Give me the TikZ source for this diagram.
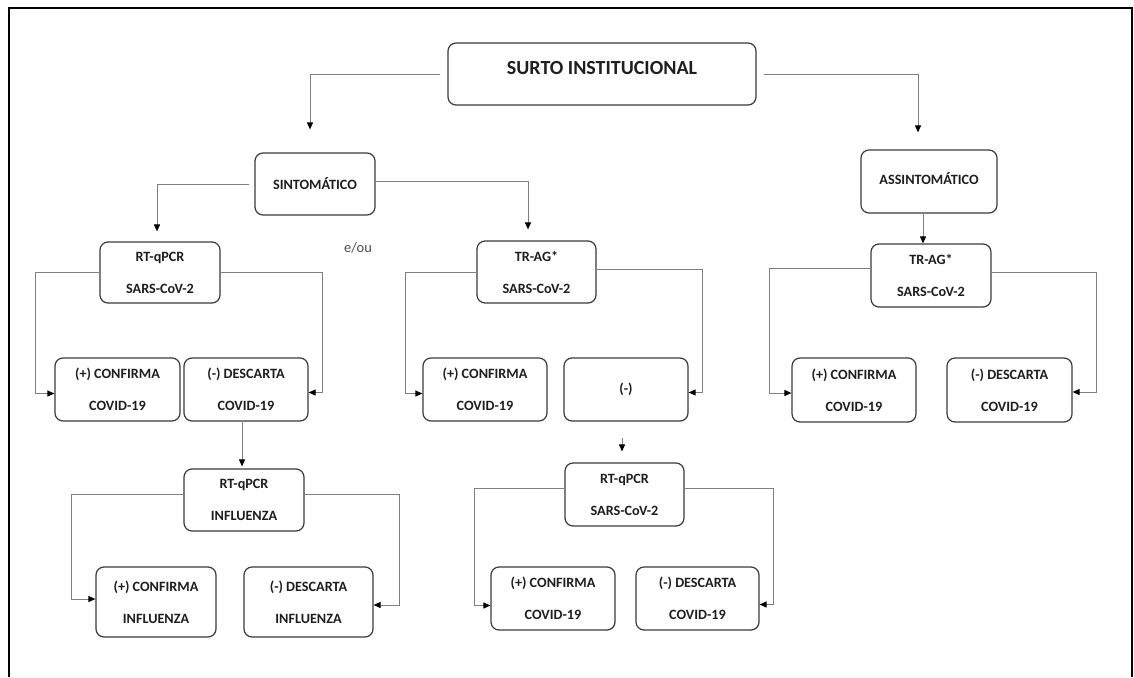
\documentclass[tikz,border=0pt]{standalone}
\usepackage{fontspec}
\setmainfont{Carlito}
\usetikzlibrary{arrows.meta,calc}
\definecolor{boxc}{HTML}{3A3A3A}
\definecolor{linec}{HTML}{808080}
\definecolor{txt}{HTML}{1E1E1E}
\tikzset{
  box/.style={draw=boxc, line width=1.2pt, rounded corners=8pt, fill=white, inner sep=0pt,
    align=center, text=txt, font=\bfseries\fontsize{14.2}{32}\selectfont},
  conn/.style={draw=linec, line width=1pt, -{Triangle[length=7pt,width=6pt,color=black]}},
}
\begin{document}
\begin{tikzpicture}[x=1pt,y=-1pt]
\useasboundingbox (0,0) rectangle (1134,677);
\draw[line width=1.8pt,black] (9,677) -- (9,8) -- (1132,8) -- (1132,677);

% nodes
\node[box, minimum width=308pt, minimum height=62pt, text depth=12pt, font=\bfseries\fontsize{20}{24}\selectfont] (surto) at (602,74) {SURTO INSTITUCIONAL};
\node[box, minimum width=120pt, minimum height=62pt] (sint) at (315,184) {SINTOMÁTICO};
\node[box, minimum width=136pt, minimum height=63pt, text depth=6pt] (assint) at (929,181.5) {ASSINTOMÁTICO};

\node[box, minimum width=120pt, minimum height=61pt] (rt1) at (160,272.5) {RT-qPCR\\SARS-CoV-2};
\node[box, minimum width=125pt, minimum height=63pt] (conf1) at (117.5,389.5) {(+) CONFIRMA\\COVID-19};
\node[box, minimum width=124pt, minimum height=63pt] (desc1) at (246,389.5) {(-) DESCARTA\\COVID-19};
\node[box, minimum width=120pt, minimum height=62pt] (rtinf) at (244,500) {RT-qPCR\\INFLUENZA};
\node[box, minimum width=120pt, minimum height=70pt] (confinf) at (156,602) {(+) CONFIRMA\\INFLUENZA};
\node[box, minimum width=129pt, minimum height=70pt] (descinf) at (308.5,602) {(-) DESCARTA\\INFLUENZA};

\node[font=\fontsize{14.5}{16}\selectfont, text=black!70] (eou) at (358,248) {e/ou};

\node[box, minimum width=119pt, minimum height=62pt] (tr1) at (536.5,272) {TR-AG*\\SARS-CoV-2};
\node[box, minimum width=124pt, minimum height=63pt] (conf2) at (485,389.5) {(+) CONFIRMA\\COVID-19};
\node[box, minimum width=124pt, minimum height=63pt] (neg) at (626,389.5) {(-)};
\node[box, minimum width=119pt, minimum height=63pt] (rt2) at (624.5,494.5) {RT-qPCR\\SARS-CoV-2};
\node[box, minimum width=124pt, minimum height=63pt] (conf3) at (553,598.5) {(+) CONFIRMA\\COVID-19};
\node[box, minimum width=123pt, minimum height=63pt] (desc3) at (697.5,598.5) {(-) DESCARTA\\COVID-19};

\node[box, minimum width=120pt, minimum height=63pt] (tr2) at (931,275.5) {TR-AG*\\SARS-CoV-2};
\node[box, minimum width=124pt, minimum height=64pt] (conf4) at (854,390) {(+) CONFIRMA\\COVID-19};
\node[box, minimum width=125pt, minimum height=64pt] (desc4) at (1009.5,390) {(-) DESCARTA\\COVID-19};

% connectors
\draw[conn, shorten <=7pt, shorten >=23pt] (surto.west) -| ([xshift=-5pt]sint.north);
\draw[conn, shorten <=7pt, shorten >=17pt] (surto.east) -| ([xshift=-11pt]assint.north);
\draw[conn, shorten <=5pt, shorten >=10pt] (sint.west) -| ([xshift=-3pt]rt1.north);
\draw[conn, shorten >=11pt] ([yshift=3pt]sint.east) -| ([xshift=-8.5pt]tr1.north);
\draw[conn] ([xshift=-6pt]assint.south) -- ([xshift=-8pt]tr2.north);

\draw[conn] (rt1.west) -- ++(-64,0) |- ([yshift=-4pt]conf1.west);
\draw[conn] (rt1.east) -- ++(102,0) |- ([yshift=-3pt]desc1.east);
\draw[conn, shorten >=2pt] ([xshift=-4pt]desc1.south) -- ([xshift=-2pt]rtinf.north);
\draw[conn] ([yshift=6pt]rtinf.west) -- ++(-112,0) |- ([yshift=3pt]confinf.west);
\draw[conn] ([yshift=6pt]rtinf.east) -- ++(95,0) |- ([yshift=-3pt]descinf.east);

\draw[conn] (tr1.west) -- ++(-71,0) |- ([yshift=-4pt]conf2.west);
\draw[conn] ([yshift=3pt]tr1.east) -- ++(106,0) |- ([yshift=-3pt]neg.east);
\draw[conn, shorten <=16pt, shorten >=11pt] ([xshift=-4pt]neg.south) -- ([xshift=-2.5pt]rt2.north);
\draw[conn] ([yshift=6pt]rt2.west) -- ++(-90,0) |- ([yshift=-7pt]conf3.west);
\draw[conn] ([yshift=6pt]rt2.east) -- ++(89,0) |- ([yshift=-6pt]desc3.east);

\draw[conn] ([yshift=7pt]tr2.west) -- ++(-101,0) |- ([yshift=-3pt]conf4.west);
\draw[conn] ([yshift=3pt]tr2.east) -- ++(105,0) |- ([yshift=-2pt]desc4.east);
\end{tikzpicture}
\end{document}
